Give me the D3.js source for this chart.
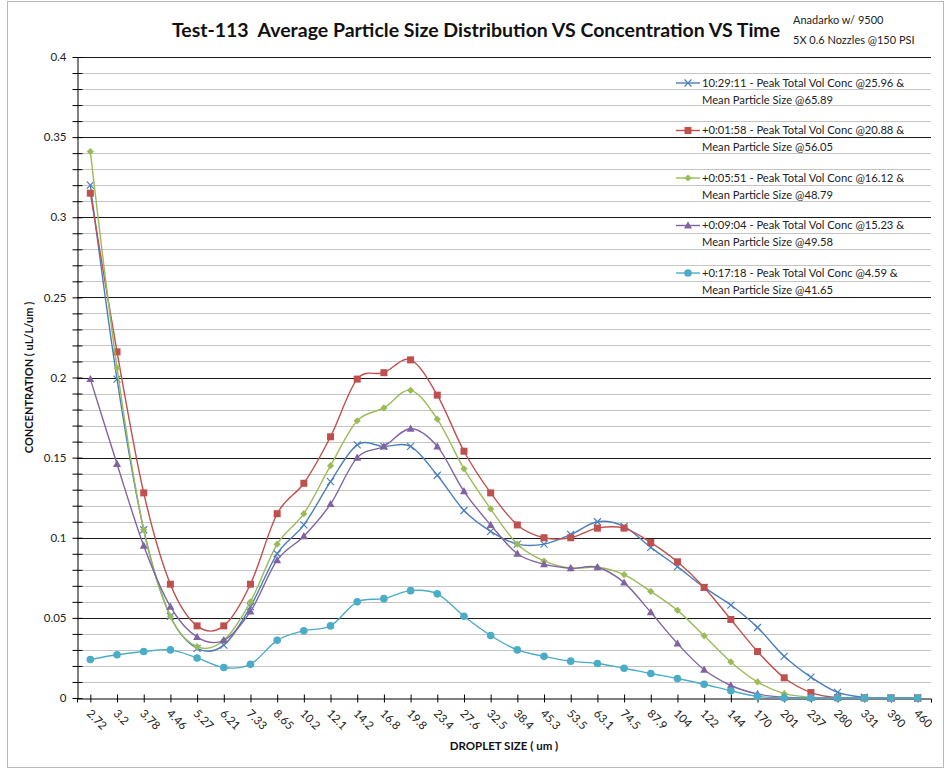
<!DOCTYPE html>
<html>
<head>
<meta charset="utf-8">
<script src="https://cdn.jsdelivr.net/npm/d3@7/dist/d3.min.js"></script>
<style>
  html, body { margin: 0; padding: 0; background: #fff; }
  svg { display: block; }
  text { font-family: Lato, "Open Sans", sans-serif; white-space: pre; }
</style>
</head>
<body>
<svg id="chart" width="948" height="768"></svg>
<script>
// Droplet size bins (um)
const categories = ["2.72","3.2","3.78","4.46","5.27","6.21","7.33","8.65","10.2","12.1",
  "14.2","16.8","19.8","23.4","27.6","32.5","38.4","45.3","53.5","63.1",
  "74.5","87.9","104","122","144","170","201","237","280","331","390","460"];

// Concentration (uL/L/um) per bin for each sample time
const t102911 = [0.320,0.199,0.105,0.051,0.031,0.033,0.057,0.090,0.108,0.135,
  0.158,0.157,0.157,0.139,0.117,0.104,0.096,0.096,0.102,0.110,
  0.107,0.094,0.082,0.069,0.058,0.044,0.026,0.013,0.0035,0.0005,0,0];
const t0158 = [0.315,0.216,0.128,0.071,0.045,0.045,0.071,0.115,0.134,0.163,
  0.199,0.203,0.211,0.189,0.154,0.128,0.108,0.100,0.100,0.106,
  0.106,0.097,0.085,0.069,0.049,0.029,0.0126,0.0034,0.0002,0,0,0];
const t0551 = [0.341,0.206,0.105,0.051,0.032,0.036,0.060,0.096,0.115,0.145,
  0.173,0.181,0.192,0.174,0.143,0.118,0.096,0.0855,0.081,0.0816,
  0.077,0.0665,0.0547,0.0388,0.0225,0.0100,0.0027,0.0005,0,0,0,0];
const t0904 = [0.199,0.146,0.095,0.057,0.038,0.036,0.054,0.086,0.101,0.121,
  0.150,0.157,0.168,0.157,0.129,0.108,0.090,0.0835,0.081,0.0816,
  0.072,0.0535,0.034,0.0176,0.0078,0.0025,0.0005,0,0,0,0,0];
const t1718 = [0.024,0.027,0.029,0.030,0.025,0.019,0.021,0.036,0.042,0.045,
  0.060,0.062,0.067,0.065,0.051,0.039,0.030,0.026,0.023,0.0215,
  0.0186,0.0153,0.0122,0.0086,0.0045,0.001,0,0,0,0,0,0];

const seriesNames = [
  ["10:29:11 - Peak Total Vol Conc @25.96 &", "Mean Particle Size @65.89"],
  ["+0:01:58 - Peak Total Vol Conc @20.88 &", "Mean Particle Size @56.05"],
  ["+0:05:51 - Peak Total Vol Conc @16.12 &", "Mean Particle Size @48.79"],
  ["+0:09:04 - Peak Total Vol Conc @15.23 &", "Mean Particle Size @49.58"],
  ["+0:17:18 - Peak Total Vol Conc @4.59 &", "Mean Particle Size @41.65"]
];
const seriesColors = ["#4A7EBB", "#C0504D", "#9BBB59", "#8064A2", "#4BACC6"];
const seriesMarkers = ["cross", "square", "diamond", "triangle", "circle"];

// Axis ticks
const yMajorTicks = [0, 0.05, 0.1, 0.15, 0.2, 0.25, 0.3, 0.35, 0.4];
const yMinorStep = 0.01;

const titleText = "Test-113  Average Particle Size Distribution VS Concentration VS Time";
const noteLines = ["Anadarko w/ 9500", "5X 0.6 Nozzles @150 PSI"];
const yAxisTitle = "CONCENTRATION ( uL/L/um )";
const xAxisTitle = "DROPLET SIZE ( um )";

const series = [t102911, t0158, t0551, t0904, t1718].map((vals, i) => ({
  name: seriesNames[i], color: seriesColors[i], marker: seriesMarkers[i],
  values: vals.map((v, j) => ({ cat: categories[j], v }))
}));

const svg = d3.select("#chart");
const plot = { left: 77, right: 931, top: 57, bottom: 698 };

// Chart area frame
svg.append("rect")
  .attr("x", 7.5).attr("y", 1.5).attr("width", 936).attr("height", 766)
  .attr("fill", "#fff").attr("stroke", "#B8B8B8").attr("stroke-width", 1);

const x = d3.scalePoint().domain(categories).range([plot.left, plot.right]).padding(0.5);
const y = d3.scaleLinear().domain([0, 0.4]).range([plot.bottom, plot.top]);

const minorTicks = d3.range(0, 41).map(i => +(i * yMinorStep).toFixed(2));
const isMajor = v => yMajorTicks.some(m => Math.abs(m - v) < 1e-9);

// Gridlines
const grid = svg.append("g");
grid.selectAll("line.minor")
  .data(minorTicks.filter(v => !isMajor(v)))
  .join("line")
  .attr("x1", plot.left).attr("x2", plot.right)
  .attr("y1", d => Math.round(y(d)) + 0.5).attr("y2", d => Math.round(y(d)) + 0.5)
  .attr("stroke", "#C4C4C4").attr("stroke-width", 1.2);
grid.selectAll("line.major")
  .data(yMajorTicks.filter(v => v > 0))
  .join("line")
  .attr("x1", plot.left).attr("x2", plot.right)
  .attr("y1", d => Math.round(y(d)) + 0.5).attr("y2", d => Math.round(y(d)) + 0.5)
  .attr("stroke", "#1a1a1a").attr("stroke-width", 1);

// Y axis
const yAxis = svg.append("g")
  .attr("transform", `translate(${plot.left + 0.5},0)`)
  .call(d3.axisLeft(y).tickValues(minorTicks).tickSize(5).tickSizeOuter(0).tickPadding(6)
    .tickFormat(v => isMajor(v) ? d3.format("")(v) : ""));
yAxis.select(".domain").attr("stroke", "#000");
yAxis.selectAll(".tick line").attr("x1", 5).attr("x2", -5).attr("stroke", "#000");
yAxis.selectAll(".tick text").attr("font-size", 11.5).attr("fill", "#222")
  .attr("font-family", "Lato, sans-serif");

// X axis
const xAxis = svg.append("g")
  .attr("transform", `translate(0,${plot.bottom + 0.5})`)
  .call(d3.axisBottom(x).tickSize(4).tickSizeOuter(4).tickFormat(d => d));
xAxis.select(".domain").attr("stroke", "#000");
xAxis.selectAll(".tick line").attr("y1", -4).attr("y2", 4).attr("stroke", "#000");
xAxis.selectAll(".tick text")
  .attr("font-size", 11.5).attr("fill", "#222").attr("font-family", "Lato, sans-serif")
  .attr("text-anchor", "start").attr("dy", "0.35em").attr("y", 0)
  .attr("transform", "translate(-2,13) rotate(45)");

// Axis titles
svg.append("text")
  .attr("transform", `translate(33,${(plot.top + plot.bottom) / 2}) rotate(-90)`)
  .attr("text-anchor", "middle").attr("font-size", 11).attr("font-weight", 700)
  .attr("fill", "#111").text(yAxisTitle);
svg.append("text")
  .attr("x", (plot.left + plot.right) / 2).attr("y", 749.5)
  .attr("text-anchor", "middle").attr("font-size", 11.5).attr("font-weight", 700)
  .attr("fill", "#111").text(xAxisTitle);

// Title and note
svg.append("text")
  .attr("x", 476).attr("y", 37).attr("text-anchor", "middle")
  .attr("font-size", 19.5).attr("font-weight", 700).attr("fill", "#111")
  .text(titleText);
svg.selectAll("text.note").data(noteLines).join("text")
  .attr("x", 793).attr("y", (d, i) => 24 + i * 20)
  .attr("font-size", 11).attr("fill", "#222").text(d => d);

// Marker drawing helper
function drawMarker(g, type, color) {
  if (type === "cross") {
    g.append("path").attr("d", "M-3.5,-3.5L3.5,3.5M-3.5,3.5L3.5,-3.5")
      .attr("stroke", color).attr("stroke-width", 1.2).attr("fill", "none");
  } else if (type === "square") {
    g.append("rect").attr("x", -3.5).attr("y", -3.5).attr("width", 7).attr("height", 7)
      .attr("fill", color);
  } else if (type === "diamond") {
    g.append("path").attr("d", "M0,-3.6L3.6,0L0,3.6L-3.6,0Z").attr("fill", color);
  } else if (type === "triangle") {
    g.append("path").attr("d", "M0,-4.2L4,3L-4,3Z").attr("fill", color);
  } else {
    g.append("circle").attr("r", 3.8).attr("fill", color);
  }
}

// Smoothed series lines with markers
const line = d3.line()
  .x(d => x(d.cat)).y(d => y(d.v))
  .curve(d3.curveCardinal.tension(0));

const seriesG = svg.append("g");
series.forEach(s => {
  const g = seriesG.append("g");
  g.append("path").datum(s.values).attr("d", line)
    .attr("fill", "none").attr("stroke", s.color).attr("stroke-width", 1.4);
  s.values.forEach(d => {
    const m = g.append("g").attr("transform", `translate(${x(d.cat)},${y(d.v)})`);
    drawMarker(m, s.marker, s.color);
  });
});

// Legend
const legend = svg.append("g");
series.forEach((s, i) => {
  const cy = 83 + i * 47.5;
  const g = legend.append("g").attr("transform", `translate(676,${cy})`);
  g.append("line").attr("x1", 0).attr("x2", 24).attr("y1", 0).attr("y2", 0)
    .attr("stroke", s.color).attr("stroke-width", 1.4);
  const m = g.append("g").attr("transform", "translate(12,0)");
  drawMarker(m, s.marker, s.color);
  g.selectAll("text").data(s.name).join("text")
    .attr("x", 26).attr("y", (d, k) => k * 17).attr("dy", "0.35em")
    .attr("font-size", 11.2).attr("fill", "#222").text(d => d);
});
</script>
</body>
</html>
